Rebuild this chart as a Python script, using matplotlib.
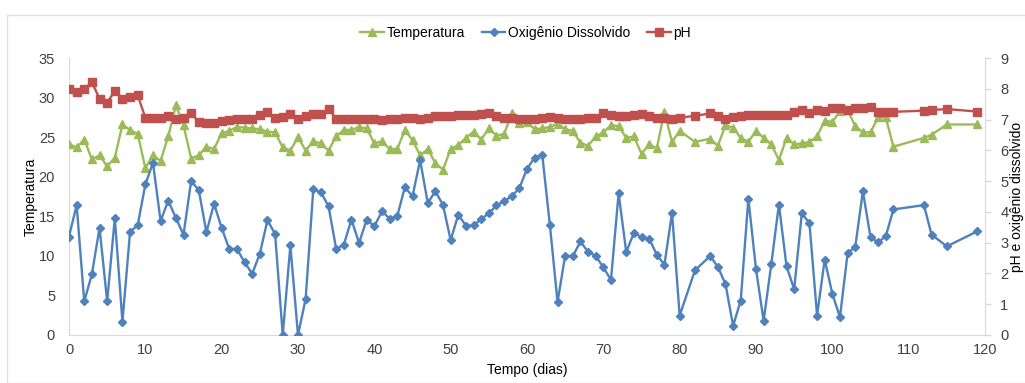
import matplotlib
matplotlib.use("Agg")
import matplotlib.pyplot as plt
from matplotlib.patches import Rectangle

plt.rcParams['font.family'] = ['Liberation Sans', 'DejaVu Sans']

days = list(range(0, 81)) + [82] + list(range(84, 109)) + [112, 113, 115, 119]

temperatura = [
    24.1, 23.7, 24.7, 22.2, 22.7, 21.3, 22.4, 26.6, 25.9, 25.4,
    21.1, 22.7, 22.0, 25.1, 29.0, 26.5, 22.3, 22.7, 23.8, 23.5,
    25.5, 25.8, 26.3, 26.2, 26.1, 26.0, 25.7, 25.6, 23.7, 23.3,
    25.0, 23.3, 24.5, 24.2, 23.3, 25.1, 25.9, 25.9, 26.3, 26.1,
    24.2, 24.5, 23.5, 23.5, 25.9, 24.6, 22.7, 23.5, 21.7, 20.9,
    23.5, 24.0, 24.9, 25.7, 24.7, 26.1, 25.2, 25.4, 28.0, 26.8,
    26.9, 26.0, 26.1, 26.3, 26.7, 26.0, 25.8, 24.3, 23.9, 25.1,
    25.6, 26.5, 26.4, 24.9, 25.1, 22.9, 24.1, 23.6, 28.2, 24.4,
    25.8,
    24.4,
    24.8, 23.9, 26.5, 26.2, 24.9, 24.4, 25.8, 24.9, 24.1, 22.1,
    24.9, 24.1, 24.2, 24.4, 25.1, 27.1, 26.9, 28.3, 28.4, 26.4,
    25.6, 25.6, 27.5, 27.5, 23.8,
    24.9, 25.3, 26.6, 26.6,
]

oxigenio = [
    3.20, 4.22, 1.09, 1.98, 3.48, 1.09, 3.80, 0.43, 3.35, 3.57,
    4.89, 5.60, 3.70, 4.37, 3.80, 3.26, 5.00, 4.71, 3.34, 4.26,
    3.48, 2.79, 2.80, 2.36, 1.99, 2.64, 3.73, 3.28, 0.00, 2.91,
    0.00, 1.17, 4.73, 4.64, 4.18, 2.80, 2.93, 3.75, 2.99, 3.75,
    3.53, 4.02, 3.78, 3.86, 4.80, 4.51, 5.68, 4.29, 4.67, 4.22,
    3.08, 3.91, 3.55, 3.56, 3.77, 3.95, 4.21, 4.35, 4.51, 4.77,
    5.40, 5.76, 5.85, 3.57, 1.07, 2.58, 2.56, 3.04, 2.70, 2.57,
    2.20, 1.79, 4.60, 2.70, 3.31, 3.18, 3.13, 2.61, 2.28, 3.97,
    0.63,
    2.10,
    2.57, 2.21, 1.66, 0.30, 1.12, 4.43, 2.14, 0.46, 2.30, 4.24,
    2.23, 1.49, 3.95, 3.64, 0.63, 2.45, 1.34, 0.58, 2.66, 2.86,
    4.67, 3.18, 3.01, 3.21, 4.08,
    4.22, 3.26, 2.88, 3.37,
]

ph = [
    7.99, 7.91, 7.99, 8.21, 7.68, 7.55, 7.93, 7.68, 7.74, 7.79,
    7.06, 7.06, 7.06, 7.12, 7.01, 7.06, 7.20, 6.92, 6.90, 6.90,
    6.96, 6.97, 7.01, 7.01, 7.01, 7.15, 7.23, 7.06, 7.08, 7.17,
    7.03, 7.12, 7.17, 7.17, 7.34, 7.03, 7.03, 7.03, 7.01, 7.01,
    7.03, 6.99, 7.01, 7.01, 7.06, 7.06, 7.03, 7.06, 7.10, 7.12,
    7.12, 7.14, 7.14, 7.15, 7.17, 7.20, 7.12, 7.06, 7.06, 7.03,
    7.01, 7.03, 7.04, 7.08, 7.06, 7.03, 7.01, 7.03, 7.06, 7.06,
    7.20, 7.14, 7.12, 7.12, 7.14, 7.19, 7.12, 7.06, 7.06, 7.01,
    7.06,
    7.12,
    7.20, 7.12, 7.01, 7.08, 7.12, 7.14, 7.14, 7.14, 7.14, 7.15,
    7.15, 7.23, 7.31, 7.20, 7.31, 7.29, 7.36, 7.36, 7.31, 7.36,
    7.39, 7.41, 7.25, 7.23, 7.25,
    7.29, 7.31, 7.34, 7.26,
]

x_ticks = list(range(0, 121, 10))
left_ticks = list(range(0, 36, 5))
right_ticks = list(range(0, 10))

GREEN = '#9BBB59'
BLUE = '#4F81BD'
RED = '#C0504D'
AXIS = '#D9D9D9'

fig = plt.figure(figsize=(10.25, 3.83), dpi=100)
fig.patches.append(Rectangle((7/1025, 0.0), 1.0, (383-15)/383, transform=fig.transFigure,
                             facecolor='none', edgecolor='#E3E1D8', linewidth=1.0))
ax = fig.add_axes([69/1025, (383-335)/383, (985-69)/1025, (335-58)/383])
ax2 = ax.twinx()

l1, = ax.plot(days, temperatura, color=GREEN, lw=1.7, marker='^', markersize=6,
              label='Temperatura', zorder=3)
l2, = ax2.plot(days, oxigenio, color=BLUE, lw=1.7, marker='D', markersize=4.2,
               label='Oxigênio Dissolvido', zorder=3)
l3, = ax2.plot(days, ph, color=RED, lw=1.7, marker='s', markersize=5.5,
               label='pH', zorder=4)

ax.set_xlim(0, 120)
ax.set_ylim(0, 35)
ax2.set_ylim(0, 9)
ax.set_xticks(x_ticks)
ax.set_yticks(left_ticks)
ax2.set_yticks(right_ticks)

for a in (ax, ax2):
    for s in a.spines.values():
        s.set_color(AXIS)
    a.spines['top'].set_visible(False)
ax.spines['right'].set_visible(False)
ax2.spines['left'].set_visible(False)
ax2.spines['bottom'].set_visible(False)

ax.tick_params(axis='both', length=0, labelsize=10.5, colors='#404040', pad=6)
ax.tick_params(axis='y', pad=10)
ax2.tick_params(axis='y', length=4, width=1, color=AXIS, direction='out',
                labelsize=10.5, labelcolor='#404040', pad=7)

ax.set_xlabel('Tempo (dias)', fontsize=10, color='#000000', labelpad=4)
ax.set_ylabel('Temperatura', fontsize=10, color='#000000', labelpad=1)
ax2.set_ylabel('pH e oxigênio dissolvido', fontsize=10, color='#000000', labelpad=1)

fig.legend(handles=[l1, l2, l3], loc='center', bbox_to_anchor=(0.513, (383-33)/383),
           ncol=3, frameon=False, fontsize=10, handlelength=1.7, handletextpad=0.2,
           columnspacing=1.2)

fig.savefig('out.png', dpi=100)
